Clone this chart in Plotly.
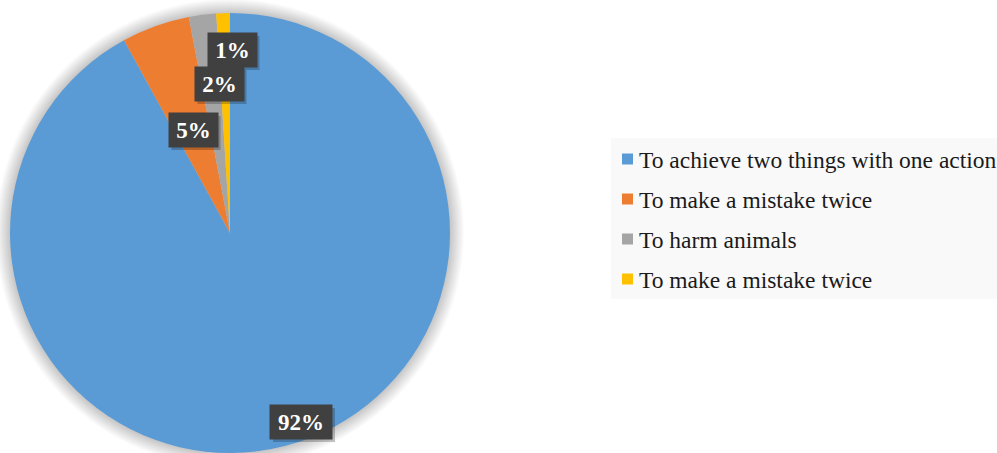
import plotly.graph_objects as go

# Survey answers and their shares (percent)
categories = [
    "To achieve two things with one action",
    "To make a mistake twice",
    "To harm animals",
    "To make a mistake twice ",
]
legend_labels = [
    "To achieve two things with one action",
    "To make a mistake twice",
    "To harm animals",
    "To make a mistake twice",
]
shares = [92, 5, 2, 1]
colors = ["#5B9BD5", "#ED7D31", "#A5A5A5", "#FFC000"]

SERIF = "Liberation Serif"

W, H = 997, 453

def px(x):
    return x / W

def py(y):
    return 1 - y / H

# pie geometry (pixels)
cx, cy, r = 230, 233, 220

fig = go.Figure()
fig.add_trace(go.Pie(
    labels=categories,
    values=shares,
    marker=dict(colors=colors, line=dict(width=0)),
    sort=False,
    direction="clockwise",
    rotation=0,
    textinfo="none",
    hoverinfo="label+percent",
    showlegend=False,
    domain=dict(x=[px(cx - r), px(cx + r)], y=[py(cy + r), py(cy - r)]),
))

shapes = []
# soft glow around the pie
for k in range(1, 15):
    rr = r + k
    shapes.append(dict(
        type="circle", xref="paper", yref="paper", layer="below",
        x0=px(cx - rr), x1=px(cx + rr), y0=py(cy + rr), y1=py(cy - rr),
        fillcolor="rgba(0,0,0,0.016)", line=dict(width=0),
    ))

annotations = []

# data labels: percentage text computed from the values
total = sum(shares)
label_pos = [(301, 422), (193, 130), (219, 84), (232, 50)]
for v, (lx, ly) in zip(shares, label_pos):
    txt = f"{round(100 * v / total)}%"
    bw = 62 if len(txt) > 2 else 49
    bh = 34
    shapes.append(dict(
        type="rect", xref="paper", yref="paper", layer="above",
        x0=px(lx - bw / 2 + 3), x1=px(lx + bw / 2 + 3),
        y0=py(ly + bh / 2 + 3), y1=py(ly - bh / 2 + 3),
        fillcolor="rgba(0,0,0,0.22)", line=dict(width=0),
    ))
    annotations.append(dict(
        x=px(lx), y=py(ly), xref="paper", yref="paper",
        text=f"<b>{txt}</b>", showarrow=False,
        xanchor="center", yanchor="middle",
        width=bw - 4, height=bh - 4, borderpad=2,
        bgcolor="#404040",
        font=dict(family=SERIF, size=23, color="white"),
    ))

# legend panel
shapes.append(dict(
    type="rect", xref="paper", yref="paper", layer="below",
    x0=px(611), x1=px(1000), y0=py(299), y1=py(138),
    fillcolor="#F9F9F9", line=dict(width=0),
))
legend_rows = [159, 199, 239, 279]
for name, col, ry in zip(legend_labels, colors, legend_rows):
    shapes.append(dict(
        type="rect", xref="paper", yref="paper", layer="above",
        x0=px(622), x1=px(633), y0=py(ry + 5.5), y1=py(ry - 5.5),
        fillcolor=col, line=dict(width=0),
    ))
    annotations.append(dict(
        x=px(637), y=py(ry + 1), xref="paper", yref="paper",
        text=name, showarrow=False, xanchor="left", yanchor="middle",
        font=dict(family=SERIF, size=23.5, color="#1A1A1A"),
    ))

fig.update_layout(
    width=W, height=H,
    margin=dict(l=0, r=0, t=0, b=0),
    paper_bgcolor="white",
    plot_bgcolor="white",
    font=dict(family=SERIF),
    shapes=shapes,
    annotations=annotations,
)

fig.write_html("out.html")
